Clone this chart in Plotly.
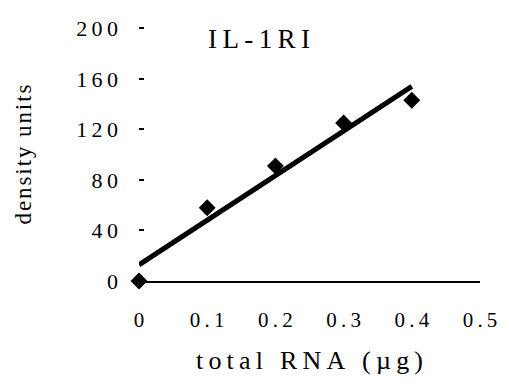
import numpy as np
import plotly.graph_objects as go

# Densitometry of IL-1RI signal against the amount of total RNA loaded
rna_ug = [0, 0.1, 0.2, 0.3, 0.4]
density = [0, 58, 91, 125, 143]

x_ticks = [0, 0.1, 0.2, 0.3, 0.4, 0.5]
x_tick_text = ["0", "0.1", "0.2", "0.3", "0.4", "0.5"]
y_ticks = [0, 40, 80, 120, 160, 200]
y_tick_text = ["0", "40", "80", "120", "160", "200"]

SERIF = "Liberation Serif, Times New Roman, serif"
THIN = "\u2009"
HAIR = "\u200a"


def spaced(s, gap=THIN):
    return gap.join(s)


# least-squares line through the measured points
slope, intercept = np.polyfit(rna_ug, density, 1)
fit_x = [rna_ug[0], rna_ug[-1]]
fit_y = [intercept + slope * v for v in fit_x]

# plot area in pixels: x 139..490, y 281 (value 0) .. 28 (value 200)
L, R, Y0, Y200 = 139, 490, 281, 28
y_top = 201
px_per_unit = (Y0 - Y200) / 200
top_px = Y0 - y_top * px_per_unit

fig = go.Figure()
fig.add_trace(go.Scatter(
    x=fit_x, y=fit_y, mode="lines",
    line=dict(color="black", width=5),
    hoverinfo="skip", showlegend=False,
))
fig.add_trace(go.Scatter(
    x=rna_ug, y=density, mode="markers",
    marker=dict(symbol="diamond", size=13, color="black"),
    cliponaxis=False, showlegend=False,
))

plot_h = Y0 - top_px


def px_to_paper_y(py):
    return (Y0 - py) / plot_h


fig.update_layout(
    width=509, height=391,
    margin=dict(l=L, r=509 - R, t=top_px, b=391 - Y0),
    paper_bgcolor="white", plot_bgcolor="white",
    font=dict(family=SERIF, color="black"),
    xaxis=dict(
        range=[0, 0.5], tickvals=x_ticks,
        ticktext=[spaced(t) for t in x_tick_text],
        showgrid=False, zeroline=False,
        showline=True, linecolor="black", linewidth=1.5,
        ticks="", ticklabelstandoff=19,
        tickfont=dict(size=21, family=SERIF),
        title=dict(text=spaced("total RNA (µg)"),
                   font=dict(size=26, family=SERIF), standoff=20),
    ),
    yaxis=dict(
        range=[0, y_top], tickvals=y_ticks,
        ticktext=[spaced(t) for t in y_tick_text],
        showgrid=False, zeroline=False, showline=False,
        ticks="inside", ticklen=5, tickwidth=1.5, tickcolor="black",
        ticklabelstandoff=20,
        tickfont=dict(size=22, family=SERIF),
    ),
    annotations=[
        dict(text=spaced("IL-1RI"), xref="paper", yref="paper",
             x=(263 - L) / (R - L), y=px_to_paper_y(39),
             xanchor="center", yanchor="middle", showarrow=False,
             font=dict(size=27, family=SERIF)),
        dict(text=spaced("density units", HAIR), xref="paper", yref="paper",
             x=(20 - L) / (R - L), y=px_to_paper_y(154),
             xanchor="center", yanchor="middle", textangle=-90,
             showarrow=False, font=dict(size=23, family=SERIF)),
    ],
)

fig.write_html("out.html")
